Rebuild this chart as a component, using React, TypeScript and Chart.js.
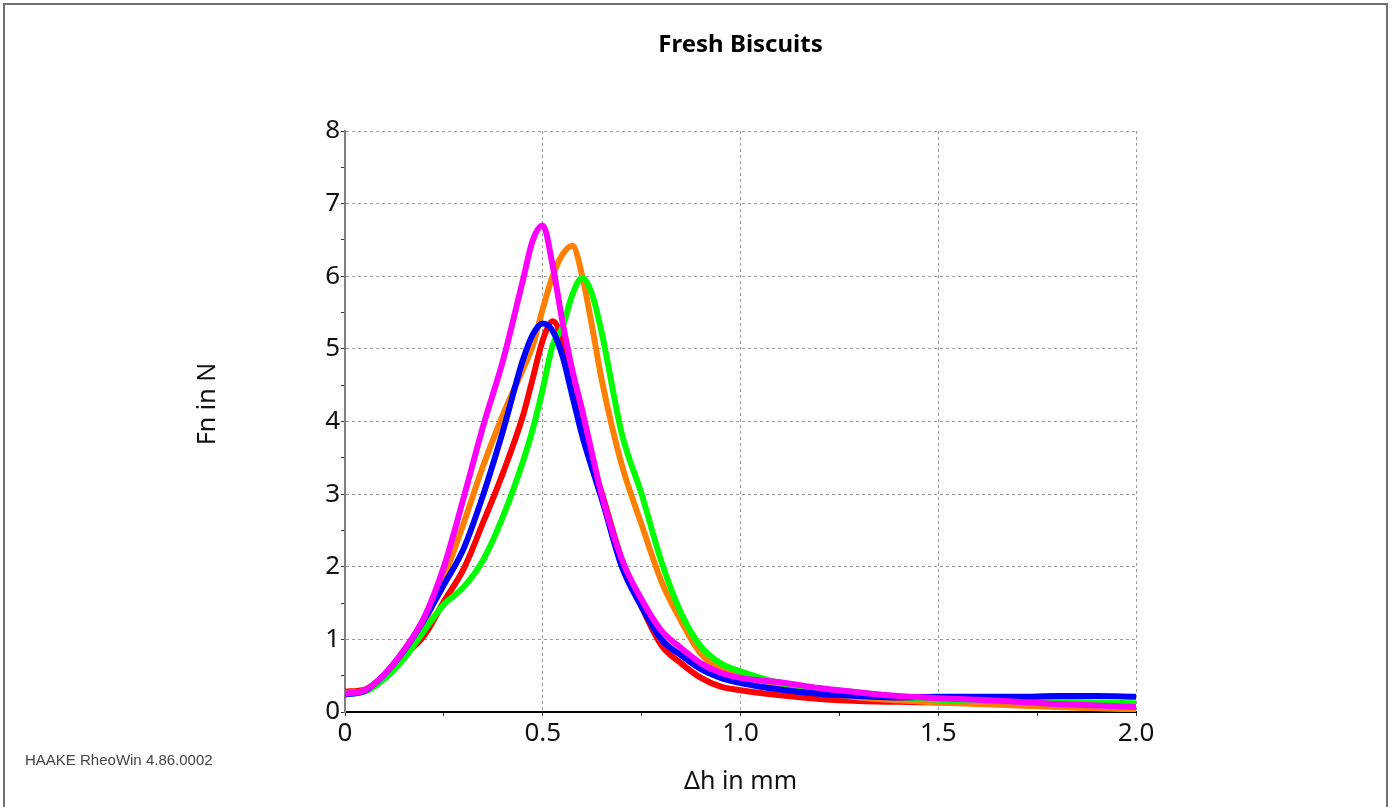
import { useEffect, useRef } from "react";
import { Chart, registerables } from "chart.js";

Chart.register(...registerables);

const TITLE = "Fresh Biscuits";
const X_TITLE = "Δh in mm";
const Y_TITLE = "Fn in N";
const FOOTER = "HAAKE RheoWin 4.86.0002";

const X_MAJOR = [0, 0.5, 1, 1.5, 2];
const X_MAJOR_LABELS = ["0", "0.5", "1.0", "1.5", "2.0"];
const Y_MAJOR = [0, 1, 2, 3, 4, 5, 6, 7, 8];
const Y_MAJOR_LABELS = ["0", "1", "2", "3", "4", "5", "6", "7", "8"];

// Δh in mm (shared sampling positions)
const dh = [
  0, 0.05, 0.1, 0.15, 0.2, 0.25, 0.3, 0.35, 0.4, 0.45, 0.475, 0.5, 0.525, 0.55, 0.575,
  0.6, 0.625, 0.65, 0.7, 0.75, 0.8, 0.85, 0.9, 0.95, 1.0, 1.1, 1.2, 1.3, 1.4, 1.5, 1.6,
  1.7, 1.8, 1.9, 2.0,
];

// Fn in N for each sample
const magentaFn = [
  0.25, 0.3, 0.52, 0.86, 1.3, 2.0, 2.95, 3.95, 4.85, 5.95, 6.5, 6.7, 6.15, 5.37, 4.7,
  4.15, 3.55, 2.97, 2.1, 1.55, 1.12, 0.88, 0.67, 0.54, 0.47, 0.41, 0.33, 0.27, 0.22, 0.19,
  0.17, 0.14, 0.11, 0.09, 0.07,
];
const blueFn = [
  0.24, 0.29, 0.52, 0.85, 1.27, 1.75, 2.25, 3.0, 3.88, 4.85, 5.2, 5.35, 5.25, 4.9, 4.35,
  3.8, 3.35, 2.92, 2.0, 1.45, 1.0, 0.78, 0.59, 0.47, 0.4, 0.31, 0.25, 0.22, 0.2, 0.21,
  0.21, 0.21, 0.22, 0.22, 0.21,
];
const greenFn = [
  0.25, 0.28, 0.46, 0.74, 1.12, 1.48, 1.72, 2.1, 2.7, 3.45, 3.9, 4.45, 5.05, 5.3, 5.75,
  5.98, 5.75, 5.2, 3.83, 3.0, 2.07, 1.36, 0.9, 0.67, 0.56, 0.4, 0.32, 0.27, 0.21, 0.17,
  0.16, 0.15, 0.14, 0.13, 0.12,
];
const orangeFn = [
  0.26, 0.3, 0.51, 0.84, 1.22, 1.85, 2.6, 3.4, 4.1, 4.72, 5.05, 5.55, 6.0, 6.3, 6.42,
  6.0, 5.3, 4.55, 3.4, 2.58, 1.8, 1.25, 0.8, 0.6, 0.51, 0.38, 0.27, 0.2, 0.16, 0.13,
  0.11, 0.09, 0.07, 0.05, 0.04,
];
const redFn = [
  0.28, 0.31, 0.5, 0.78, 1.05, 1.52, 1.97, 2.62, 3.3, 4.08, 4.6, 5.12, 5.38, 5.12, 4.55,
  3.97, 3.45, 3.0, 2.1, 1.45, 0.92, 0.67, 0.47, 0.35, 0.3, 0.23, 0.18, 0.15, 0.14, 0.13,
  0.12, 0.1, 0.08, 0.06, 0.05,
];

const seriesNames = ["Sample 5", "Sample 4", "Sample 3", "Sample 2", "Sample 1"];
const seriesColors = ["#ff00ff", "#0000ff", "#00ff00", "#ff8000", "#ff0000"];
const seriesValues = [magentaFn, blueFn, greenFn, orangeFn, redFn];

const isMajor = (v: number, majors: number[]) => majors.some((m) => Math.abs(m - v) < 1e-6);

const textPlugin = {
  id: "texts",
  afterDraw(chart: any) {
    const { ctx, chartArea } = chart;
    ctx.save();
    // frame
    ctx.strokeStyle = "#707070";
    ctx.lineWidth = 2;
    ctx.strokeRect(4, 4, 1383, 830);
    // title
    ctx.fillStyle = "#000";
    ctx.textAlign = "center";
    ctx.textBaseline = "middle";
    ctx.font = "bold 24px 'Noto Sans'";
    const cx = (chartArea.left + chartArea.right) / 2;
    ctx.fillText(TITLE, cx, 45);
    // x title
    ctx.font = "25px 'Noto Sans'";
    ctx.fillStyle = "#111";
    ctx.fillText(X_TITLE, cx, 782);
    // y title
    ctx.save();
    ctx.translate(208, 404);
    ctx.rotate(-Math.PI / 2);
    ctx.fillText(Y_TITLE, 0, 0);
    ctx.restore();
    // footer
    ctx.textAlign = "left";
    ctx.fillStyle = "#444";
    ctx.font = "15px 'Liberation Sans'";
    ctx.fillText(FOOTER, 25, 761);
    ctx.restore();
  },
};

export default function App() {
  const ref = useRef<HTMLCanvasElement | null>(null);

  useEffect(() => {
    if (!ref.current) return;
    const chart = new Chart(ref.current, {
      type: "line",
      data: {
        datasets: seriesValues.map((vals, i) => ({
          label: seriesNames[i],
          data: dh.map((x, j) => ({ x, y: vals[j] })),
          borderColor: seriesColors[i],
          backgroundColor: seriesColors[i],
          borderWidth: 6,
          pointRadius: 0,
          cubicInterpolationMode: "monotone",
          fill: false,
        })),
      },
      options: {
        animation: false,
        responsive: false,
        maintainAspectRatio: false,
        layout: { padding: { left: 245, top: 131, right: 258, bottom: 40 } },
        plugins: {
          legend: { display: false },
          title: { display: false },
          tooltip: { enabled: false },
        },
        scales: {
          x: {
            type: "linear",
            min: 0,
            max: 2,
            afterFit: (s: any) => {
              s.height = 55;
            },
            afterBuildTicks: (s: any) => {
              s.ticks = [0, 0.25, 0.5, 0.75, 1, 1.25, 1.5, 1.75, 2].map((v) => ({ value: v }));
            },
            ticks: {
              autoSkip: false,
              maxRotation: 0,
              padding: 2,
              color: "#111",
              font: { family: "'Noto Sans'", size: 26 },
              callback: (v: any) => {
                const idx = X_MAJOR.findIndex((m) => Math.abs(m - Number(v)) < 1e-6);
                return idx >= 0 ? X_MAJOR_LABELS[idx] : "";
              },
            },
            grid: {
              color: (c: any) =>
                c.tick && isMajor(c.tick.value, X_MAJOR) ? "#9a9a9a" : "rgba(0,0,0,0)",
              lineWidth: 1,
              tickLength: 4,
              tickColor: "#333",
              tickBorderDash: [],
            },
            border: { display: true, color: "#000", width: 2, dash: [3, 3] },
          },
          y: {
            type: "linear",
            min: 0,
            max: 8,
            afterFit: (s: any) => {
              s.width = 100;
            },
            afterBuildTicks: (s: any) => {
              const t = [];
              for (let k = 0; k <= 16; k++) t.push({ value: k * 0.5 });
              s.ticks = t;
            },
            ticks: {
              autoSkip: false,
              padding: 1,
              color: "#111",
              font: { family: "'Noto Sans'", size: 26 },
              callback: (v: any) => {
                const idx = Y_MAJOR.findIndex((m) => Math.abs(m - Number(v)) < 1e-6);
                return idx >= 0 ? Y_MAJOR_LABELS[idx] : "";
              },
            },
            grid: {
              color: (c: any) =>
                c.tick && isMajor(c.tick.value, Y_MAJOR) ? "#9a9a9a" : "rgba(0,0,0,0)",
              lineWidth: 1,
              tickLength: 4,
              tickColor: "#333",
              tickBorderDash: [],
            },
            border: { display: true, color: "#808080", width: 2, dash: [3, 3] },
          },
        },
      },
      plugins: [textPlugin],
    });
    return () => chart.destroy();
  }, []);

  return (
    <div style={{ position: "fixed", left: 0, top: 0, width: 1394, height: 807, background: "#fff" }}>
      <canvas ref={ref} width={1394} height={807} style={{ display: "block" }} />
    </div>
  );
}
